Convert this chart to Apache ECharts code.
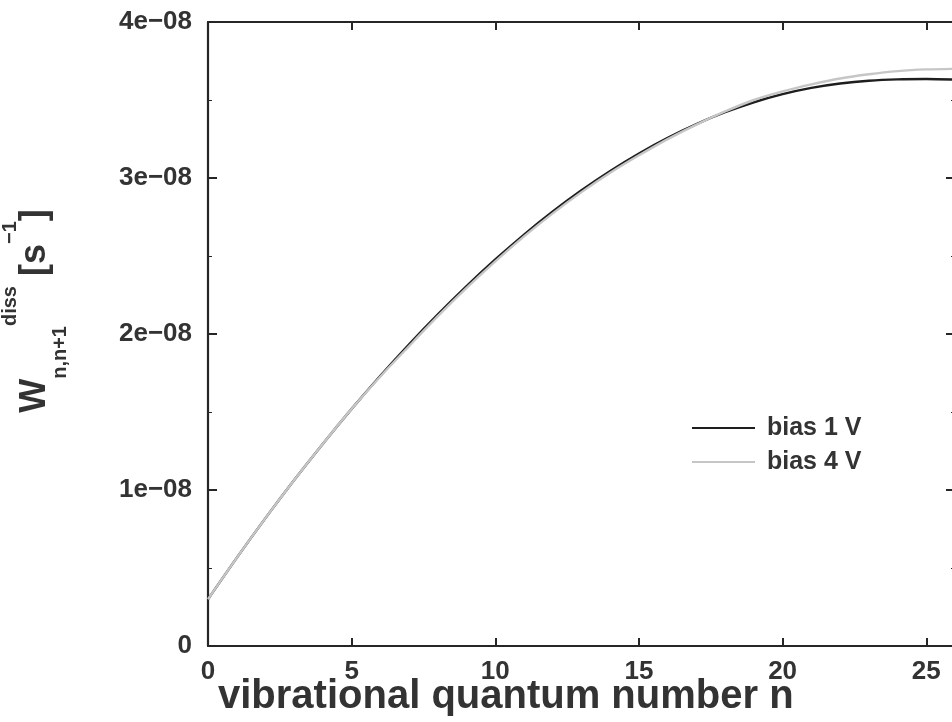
<!DOCTYPE html>
<html>
<head>
<meta charset="utf-8">
<script src="https://cdn.jsdelivr.net/npm/echarts@6/dist/echarts.min.js"></script>
<style>html,body{margin:0;padding:0;background:#fff;}#c{width:952px;height:722px;}</style>
</head>
<body>
<div id="c"></div>
<script>
// vibrational quantum number n
var nValues = [0,1,2,3,4,5,6,7,8,9,10,11,12,13,14,15,16,17,18,19,20,21,22,23,24,25,26];
// dissociation rate W [s^-1], bias 1 V
var bias1V = [3.0e-9,5.65e-9,8.195e-9,1.0635e-8,1.297e-8,1.52e-8,1.7325e-8,1.9345e-8,2.126e-8,2.307e-8,2.4775e-8,2.6375e-8,2.7855e-8,2.9215e-8,3.0455e-8,3.1575e-8,3.2575e-8,3.3455e-8,3.4215e-8,3.4855e-8,3.5375e-8,3.5775e-8,3.6055e-8,3.6235e-8,3.6325e-8,3.6345e-8,3.6305e-8];
// bias 4 V
var bias4V = [3.0e-9,5.65e-9,8.195e-9,1.0635e-8,1.297e-8,1.52e-8,1.7275e-8,1.9225e-8,2.114e-8,2.295e-8,2.4655e-8,2.6255e-8,2.7735e-8,2.9095e-8,3.0335e-8,3.1455e-8,3.2495e-8,3.3425e-8,3.4265e-8,3.50e-8,3.555e-8,3.60e-8,3.638e-8,3.665e-8,3.685e-8,3.696e-8,3.70e-8];
var xTickLabels = ['0','5','10','15','20','25'];
var yTickLabels = ['0','1e\u221208','2e\u221208','3e\u221208','4e\u221208'];
var seriesNames = ['bias 1 V','bias 4 V'];

var FONT = 'Liberation Sans, Arial, sans-serif';
var AX = '#262626';
var TXT = '#333333';

function pairs(ys){ return nValues.map(function(x,i){ return [x, ys[i]]; }); }

var chart = echarts.init(document.getElementById('c'), null, {renderer:'canvas'});
function axLine(){ return {show:true, onZero:false, lineStyle:{color:AX, width:2.2}}; }
chart.setOption({
  animation:false,
  backgroundColor:'#ffffff',
  grid:{left:208, top:22, width:747, height:624, containLabel:false, outerBoundsMode:'none'},
  xAxis:[{
    type:'value', min:0, max:26, interval:5, position:'bottom',
    axisLine:axLine(),
    axisTick:{show:true, inside:true, length:8, lineStyle:{color:AX, width:2}},
    splitLine:{show:false},
    axisLabel:{show:true, margin:13, fontSize:26, fontWeight:'bold', fontFamily:FONT, color:TXT,
      showMaxLabel:false,
      formatter:function(v){ if (Math.abs(v % 5) > 1e-9) return ''; var i=Math.round(v/5); return xTickLabels[i]!==undefined?xTickLabels[i]:''; }}
  },{
    type:'value', min:0, max:26, interval:5, position:'top',
    axisLine:axLine(),
    axisTick:{show:true, inside:true, length:8, lineStyle:{color:AX, width:2}},
    splitLine:{show:false}, axisLabel:{show:false}
  }],
  yAxis:[{
    type:'value', min:0, max:4e-8, interval:1e-8, position:'left',
    axisLine:axLine(),
    axisTick:{show:true, inside:true, length:9, lineStyle:{color:AX, width:2}},
    minorTick:{show:true, splitNumber:2, length:4, lineStyle:{color:AX, width:1}},
    splitLine:{show:false}, minorSplitLine:{show:false},
    axisLabel:{show:true, margin:16, fontSize:26, fontWeight:'bold', fontFamily:FONT, color:TXT,
      formatter:function(v){ var i=Math.round(v/1e-8); return yTickLabels[i]!==undefined?yTickLabels[i]:''; }}
  },{
    type:'value', min:0, max:4e-8, interval:1e-8, position:'right',
    axisLine:axLine(),
    axisTick:{show:true, inside:true, length:9, lineStyle:{color:AX, width:2}},
    minorTick:{show:true, splitNumber:2, length:4, lineStyle:{color:AX, width:1}},
    splitLine:{show:false}, axisLabel:{show:false}
  }],
  legend:{
    show:true, left:687, top:410, orient:'vertical', icon:'rect',
    itemWidth:63, itemHeight:2, itemGap:8,
    data:seriesNames,
    textStyle:{fontSize:25, fontWeight:'bold', fontFamily:FONT, color:TXT, lineHeight:26, padding:[0,0,0,7]}
  },
  series:[{
    name:seriesNames[0], type:'line', xAxisIndex:0, yAxisIndex:0,
    data:pairs(bias1V), showSymbol:false, symbol:'none', smooth:0.3,
    color:'#1e1e1e', lineStyle:{color:'#1e1e1e', width:2.4}, z:2
  },{
    name:seriesNames[1], type:'line', xAxisIndex:0, yAxisIndex:0,
    data:pairs(bias4V), showSymbol:false, symbol:'none', smooth:0.3,
    color:'#c6c6c6', lineStyle:{color:'#c6c6c6', width:2.4}, z:3
  }],
  graphic:[{
    type:'text', x:218, y:697,
    style:{text:'vibrational quantum number n', font:'bold 40px '+FONT, fill:TXT, verticalAlign:'middle', align:'left'}
  },{
    type:'text', x:35, y:311, rotation:Math.PI/2,
    style:{
      text:'{w|W}{sub|n,n+1}{sup|diss}{w| [s}{sup2|\u22121}{w|]}',
      align:'center', verticalAlign:'middle', fill:TXT,
      rich:{
        w:{font:'bold 36px '+FONT, fill:TXT, lineHeight:70, verticalAlign:'middle'},
        sub:{font:'bold 20px '+FONT, fill:TXT, lineHeight:50, verticalAlign:'bottom'},
        sup:{font:'bold 20px '+FONT, fill:TXT, lineHeight:42, verticalAlign:'top'},
        sup2:{font:'bold 20px '+FONT, fill:TXT, lineHeight:36, verticalAlign:'top'}
      }
    }
  }]
});
</script>
</body>
</html>
